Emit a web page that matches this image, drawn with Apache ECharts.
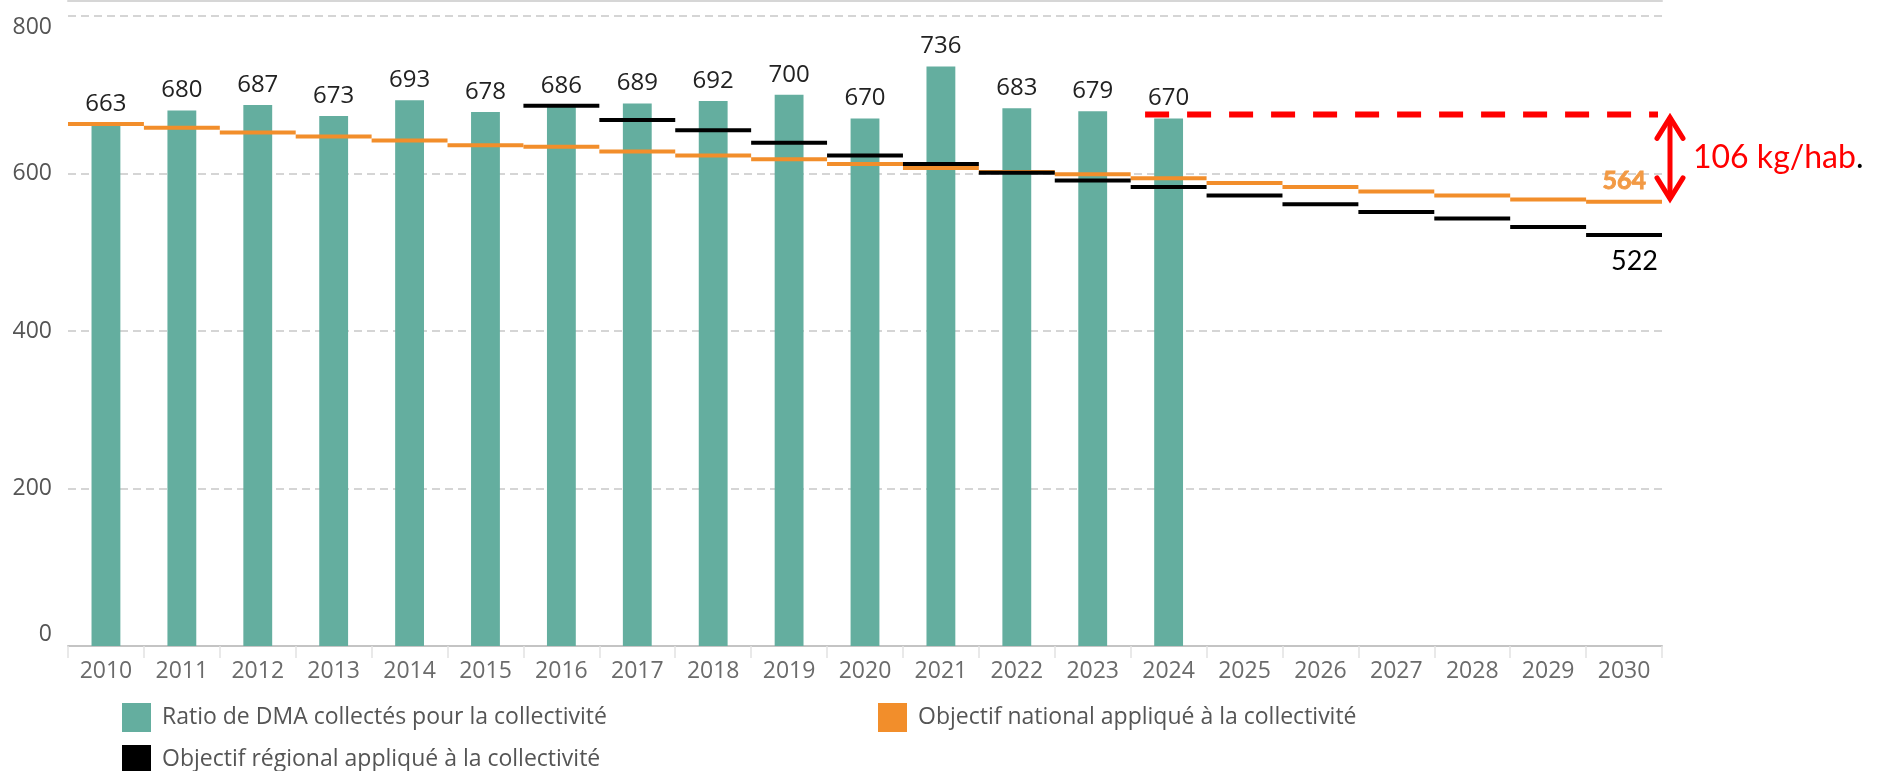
<!DOCTYPE html>
<html>
<head>
<meta charset="utf-8">
<script src="https://cdn.jsdelivr.net/npm/echarts@6/dist/echarts.min.js"></script>
<style>html,body{margin:0;padding:0;background:#fff}#c{width:1890px;height:771px}</style>
</head>
<body>
<div id="c"></div>
<script>
const years = ['2010','2011','2012','2013','2014','2015','2016','2017','2018','2019','2020','2021','2022','2023','2024','2025','2026','2027','2028','2029','2030'];
const dmaRatio = [663,680,687,673,693,678,686,689,692,700,670,736,683,679,670];
const objectifNational = [663,658,652,647,642,636,634,628,623,618,612,607,602,599,594,588,583,577,572,567,564];
const objectifRegional = [null,null,null,null,null,null,686,668,655,639,623,612,601,591,583,572,561,551,543,532,522];
const yTicks = [0,200,400,600,800];

const nameDMA = 'Ratio de DMA collectés pour la collectivité';
const nameNat = 'Objectif national appliqué à la collectivité';
const nameReg = 'Objectif régional appliqué à la collectivité';
const TEAL = '#64ae9f', ORANGE = '#f28e2b', BLACK = '#000000', RED = '#ff0000';
const FONT = "'Open Sans', sans-serif";

function stepData(arr){ return arr.map((v,i)=>[i,v]).filter(d=>d[1]!=null); }

function stepRender(color, endLabel){
  return function(params, api){
    const idx = api.value(0), v = api.value(1);
    const c = api.coord([idx, v]);
    const w = api.size([1,0])[0];
    const children = [{type:'line', shape:{x1:c[0]-w/2, y1:c[1], x2:c[0]+w/2, y2:c[1]}, style:{stroke:color, lineWidth:4}}];
    if (endLabel && idx === years.length-1) {
      const st = {text:String(v), fill:endLabel.color, font:endLabel.font, align:'right', verticalAlign:endLabel.va, x:c[0]+w/2+endLabel.dx, y:c[1]+endLabel.dy};
      if (endLabel.stroke) { st.stroke = endLabel.color; st.lineWidth = endLabel.stroke; }
      children.push({type:'text', style:st});
    }
    return {type:'group', children};
  };
}

const lastIdx = dmaRatio.length-1;
const gapValue = dmaRatio[lastIdx] - objectifNational[objectifNational.length-1];

const legendText = {color:'#555', fontSize:23, fontFamily:FONT, padding:[0,0,0,6]};

const chart = echarts.init(document.getElementById('c'));
chart.setOption({
  animation:false,
  grid:{left:68, right:228, top:16, bottom:125},
  xAxis:[{
    type:'category', data:years, boundaryGap:true,
    axisLine:{lineStyle:{color:'#c4c4c4', width:2}},
    axisTick:{show:true, interval:0, length:12, lineStyle:{color:'#e2e2e2', width:1.5}},
    axisLabel:{color:'#6b6b6b', fontSize:23, fontFamily:FONT, margin:14, interval:0}
  },{
    type:'category', data:years, position:'top', offset:15,
    axisLine:{lineStyle:{color:'#d6d6d6', width:2}}, axisTick:{show:false}, axisLabel:{show:false}
  }],
  yAxis:{
    type:'value', min:yTicks[0], max:yTicks[yTicks.length-1], interval:200,
    axisLine:{show:false}, axisTick:{show:false},
    axisLabel:{color:'#555', fontSize:23, fontFamily:FONT, margin:16, verticalAlignMinLabel:'bottom', verticalAlignMaxLabel:'top'},
    splitLine:{lineStyle:{color:'#c8c8c8', type:[8,5], width:1.5}}
  },
  legend:[
    {data:[nameDMA], left:117, top:698, itemWidth:29, itemHeight:29, icon:'rect', textStyle:legendText},
    {data:[nameNat], left:873, top:698, itemWidth:29, itemHeight:29, icon:'rect', textStyle:legendText},
    {data:[nameReg], left:117, top:740, itemWidth:29, itemHeight:29, icon:'rect', textStyle:legendText}
  ],
  series:[
    {name:nameDMA, type:'bar', data:dmaRatio, barWidth:'38%', itemStyle:{color:TEAL},
     label:{show:true, position:'top', distance:8, color:'#222', fontSize:24, fontFamily:FONT}, z:2},
    {name:nameNat, type:'custom', data:stepData(objectifNational), itemStyle:{color:ORANGE},
     renderItem: stepRender(ORANGE, {color:'#f29a45', font:'bold 25px Lato', stroke:0.9, va:'bottom', dx:-16, dy:-8}), z:3},
    {name:nameReg, type:'custom', data:stepData(objectifRegional), itemStyle:{color:BLACK},
     renderItem: stepRender(BLACK, {color:'#000', font:'27px Lato', va:'top', dx:-4, dy:13}), z:4},
    {name:'ecart', type:'custom', data:[[lastIdx, dmaRatio[lastIdx], objectifNational[objectifNational.length-1]]], z:5,
     renderItem: function(params, api){
       const cs = params.coordSys;
       const w = api.size([1,0])[0];
       const top = api.coord([api.value(0), api.value(1)]);
       const bot = api.coord([api.value(0), api.value(2)]);
       const yTop = top[1]-4, yBot = bot[1];
       const xr = cs.x + cs.width;
       const ax = xr + 8;
       return {type:'group', children:[
         {type:'line', shape:{x1:top[0]-w*0.31, y1:yTop, x2:xr-4, y2:yTop}, style:{stroke:RED, lineWidth:6, lineDash:[24,18]}},
         {type:'line', shape:{x1:ax, y1:yTop+3, x2:ax, y2:yBot-3}, style:{stroke:RED, lineWidth:5}},
         {type:'polyline', shape:{points:[[ax-13,yTop+24],[ax,yTop+3],[ax+13,yTop+24]]}, style:{stroke:RED, lineWidth:5, fill:null, lineCap:'round', lineJoin:'miter'}},
         {type:'polyline', shape:{points:[[ax-13,yBot-24],[ax,yBot-3],[ax+13,yBot-24]]}, style:{stroke:RED, lineWidth:5, fill:null, lineCap:'round', lineJoin:'miter'}},
         {type:'text', style:{text:'{r|'+gapValue+' kg/hab}{k|.}', x:ax+23, y:(yTop+yBot)/2, verticalAlign:'middle', align:'left',
           rich:{r:{fill:RED, fontSize:32, fontFamily:'Lato'}, k:{fill:'#000', fontSize:32, fontFamily:'Lato'}}}}
       ]};
     }}
  ]
});
</script>
</body>
</html>
